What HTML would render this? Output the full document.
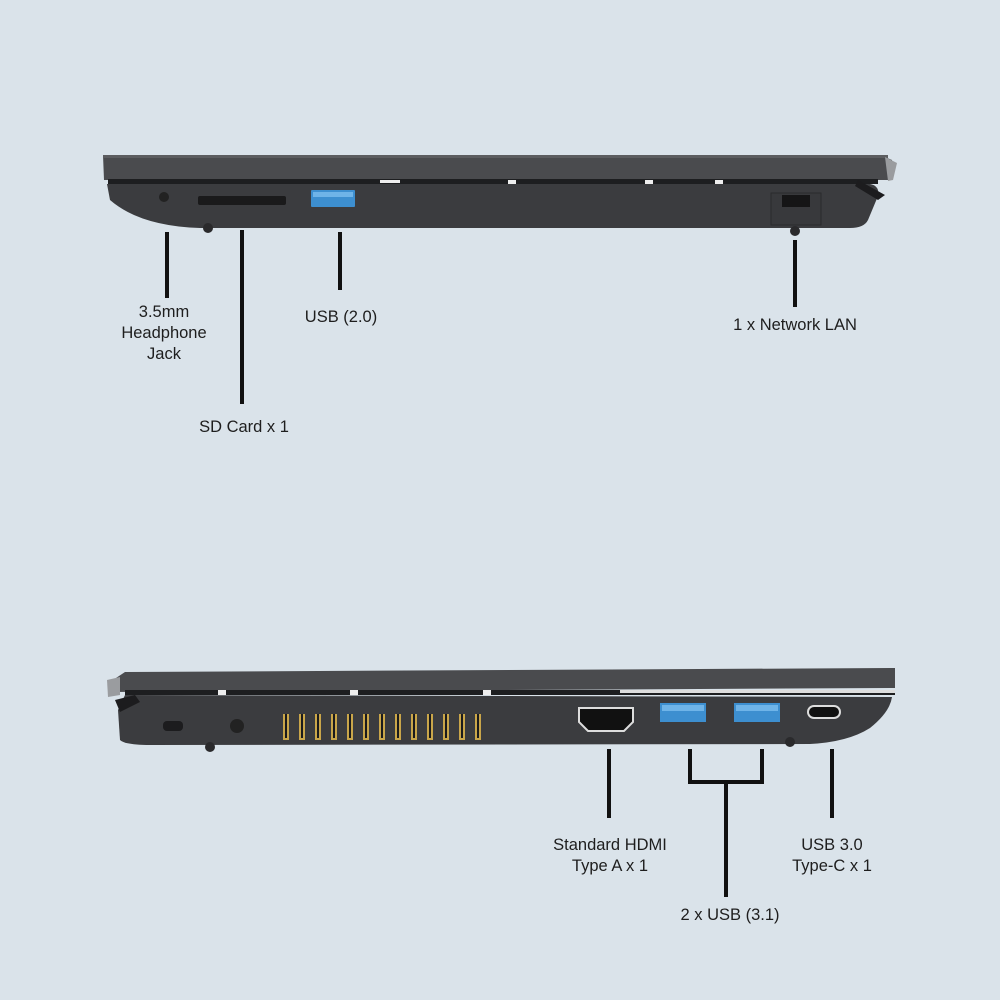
<!DOCTYPE html>
<html><head><meta charset="utf-8"><style>
html,body{margin:0;padding:0;background:#dae3ea;}
svg{display:block}
text{font-family:"Liberation Sans",sans-serif;font-size:16.5px;fill:#1e1e1e;text-anchor:middle}
</style></head><body>
<svg width="1000" height="1000" viewBox="0 0 1000 1000">
<rect width="1000" height="1000" fill="#dae3ea"/>
<!-- TOP LAPTOP -->
<polygon points="103,155 885,157 892,160 890,180 104,180" fill="#4a4b4e"/>
<rect x="103" y="155" width="785" height="3" fill="#5c5d60"/>
<polygon points="885,157 897,163 893,180 888,181" fill="#9a9c9f"/>
<rect x="108" y="179" width="770" height="5" fill="#1d1e20"/>
<rect x="380" y="180" width="20" height="3" fill="#eee"/>
<rect x="508" y="180" width="8" height="4" fill="#eee"/>
<rect x="645" y="180" width="8" height="4" fill="#eee"/>
<rect x="715" y="180" width="8" height="4" fill="#eee"/>
<path d="M107,184 L870,184 Q880,186 878,196 L868,220 Q864,228 850,228 L200,228 Q140,226 110,200 Z" fill="#3b3c3f"/>
<path d="M858,180 L885,195 L878,200 L855,186 Z" fill="#1c1c1e"/>
<circle cx="164" cy="197" r="5" fill="#222"/>
<rect x="198" y="196" width="88" height="9" rx="2" fill="#1a1a1b"/>
<rect x="311" y="190" width="44" height="17" rx="1" fill="#3d8fd0"/>
<rect x="313" y="192" width="40" height="5" fill="#6fb4e8"/>
<rect x="771" y="193" width="50" height="32" fill="#38393c" stroke="#2a2a2c"/>
<rect x="782" y="195" width="28" height="12" fill="#151516"/>
<circle cx="208" cy="228" r="5" fill="#2a2a2c"/>
<circle cx="795" cy="231" r="5" fill="#2a2a2c"/>
<g fill="#111">
<rect x="165" y="232" width="4" height="66"/>
<rect x="240" y="230" width="4" height="174"/>
<rect x="338" y="232" width="4" height="58"/>
<rect x="793" y="240" width="4" height="67"/>
</g>
<text x="164" y="317">3.5mm</text>
<text x="164" y="338">Headphone</text>
<text x="164" y="359">Jack</text>
<text x="341" y="322">USB (2.0)</text>
<text x="795" y="330">1 x Network LAN</text>
<text x="244" y="432">SD Card x 1</text>
<!-- BOTTOM LAPTOP -->
<polygon points="113,680 125,672 895,668 895,688 113,692" fill="#4a4b4e"/>
<polygon points="107,680 120,677 120,695 108,697" fill="#9a9c9f"/>
<rect x="125" y="690" width="770" height="5" fill="#1d1e20"/>
<rect x="218" y="690" width="8" height="5" fill="#eee"/>
<rect x="350" y="690" width="8" height="5" fill="#eee"/>
<rect x="483" y="690" width="8" height="5" fill="#eee"/>
<rect x="620" y="690" width="275" height="3" fill="#ddd"/>
<path d="M125,695 L892,697 Q890,712 870,728 Q848,742 810,744 L150,745 Q125,745 120,740 L118,710 Z" fill="#3b3c3f"/>
<path d="M115,700 L135,695 L140,702 L120,712 Z" fill="#1c1c1e"/>
<rect x="163" y="721" width="20" height="10" rx="4" fill="#1c1c1e"/>
<circle cx="237" cy="726" r="7" fill="#222"/>
<g fill="#c9a64a">
<rect x="283" y="714" width="6" height="26"/><rect x="299" y="714" width="6" height="26"/><rect x="315" y="714" width="6" height="26"/><rect x="331" y="714" width="6" height="26"/><rect x="347" y="714" width="6" height="26"/><rect x="363" y="714" width="6" height="26"/><rect x="379" y="714" width="6" height="26"/><rect x="395" y="714" width="6" height="26"/><rect x="411" y="714" width="6" height="26"/><rect x="427" y="714" width="6" height="26"/><rect x="443" y="714" width="6" height="26"/><rect x="459" y="714" width="6" height="26"/><rect x="475" y="714" width="6" height="26"/>
</g>
<g fill="#1b1b1c">
<rect x="285" y="714" width="2" height="24"/><rect x="301" y="714" width="2" height="24"/><rect x="317" y="714" width="2" height="24"/><rect x="333" y="714" width="2" height="24"/><rect x="349" y="714" width="2" height="24"/><rect x="365" y="714" width="2" height="24"/><rect x="381" y="714" width="2" height="24"/><rect x="397" y="714" width="2" height="24"/><rect x="413" y="714" width="2" height="24"/><rect x="429" y="714" width="2" height="24"/><rect x="445" y="714" width="2" height="24"/><rect x="461" y="714" width="2" height="24"/><rect x="477" y="714" width="2" height="24"/>
</g>
<path d="M579,708 L633,708 L633,722 L624,731 L588,731 L579,722 Z" fill="#111" stroke="#ddd" stroke-width="2"/>
<rect x="660" y="703" width="46" height="19" fill="#3d8fd0"/>
<rect x="662" y="705" width="42" height="6" fill="#6fb4e8"/>
<rect x="734" y="703" width="46" height="19" fill="#3d8fd0"/>
<rect x="736" y="705" width="42" height="6" fill="#6fb4e8"/>
<rect x="808" y="706" width="32" height="12" rx="6" fill="#111" stroke="#ddd" stroke-width="2"/>
<circle cx="210" cy="747" r="5" fill="#2a2a2c"/>
<circle cx="790" cy="742" r="5" fill="#2a2a2c"/>
<g fill="#111">
<rect x="607" y="749" width="4" height="69"/>
<rect x="688" y="749" width="4" height="35"/>
<rect x="760" y="749" width="4" height="35"/>
<rect x="688" y="780" width="76" height="4"/>
<rect x="724" y="780" width="4" height="117"/>
<rect x="830" y="749" width="4" height="69"/>
</g>
<text x="610" y="850">Standard HDMI</text>
<text x="610" y="871">Type A x 1</text>
<text x="832" y="850">USB 3.0</text>
<text x="832" y="871">Type-C x 1</text>
<text x="730" y="920">2 x USB (3.1)</text>
</svg>
</body></html>
